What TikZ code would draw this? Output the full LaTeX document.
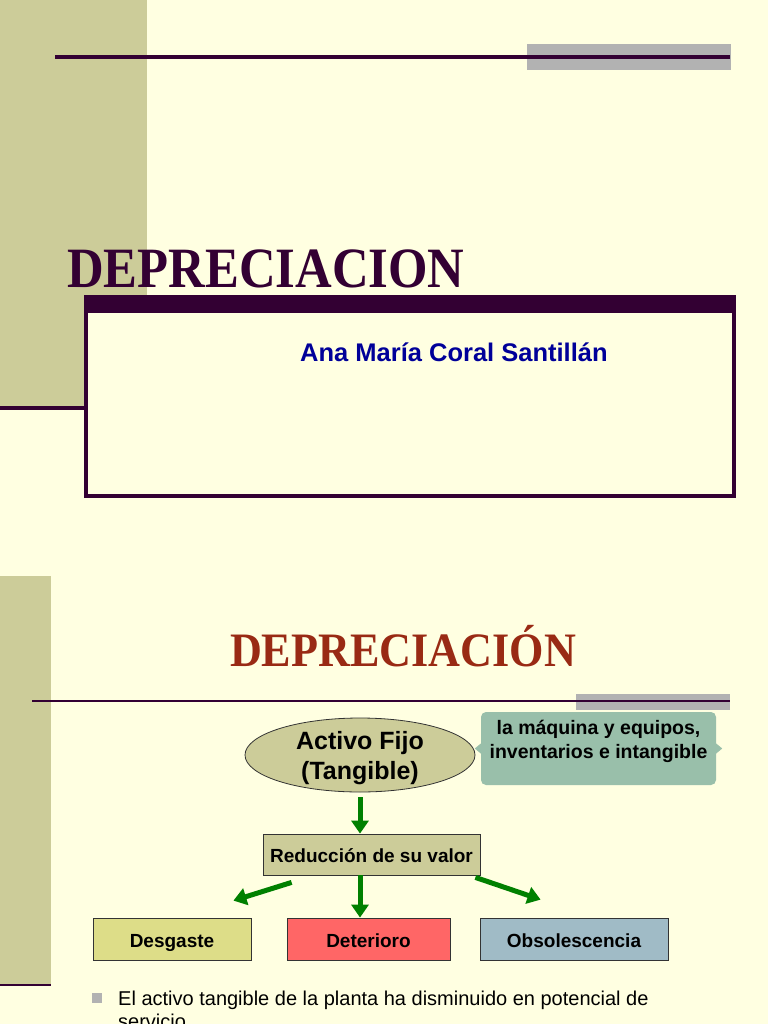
\documentclass[tikz,border=0pt]{standalone}
\usepackage{fontspec}
\setmainfont{Liberation Sans}
\newfontfamily\titleserif{Liberation Serif}
\usetikzlibrary{arrows.meta,positioning,shapes.geometric}
\definecolor{PAPER}{HTML}{FFFFE1}
\definecolor{OLIVE}{HTML}{CCCC99}
\definecolor{PLUM}{HTML}{330033}
\definecolor{BAR}{HTML}{B2B2B2}
\definecolor{NAME}{HTML}{000099}
\definecolor{RUST}{HTML}{992A14}
\definecolor{SAGE}{HTML}{99BFAA}
\definecolor{LEAF}{HTML}{008000}
\definecolor{STRAW}{HTML}{DDDD88}
\definecolor{CORAL}{HTML}{FF6666}
\definecolor{SLATE}{HTML}{A0BBC6}
\definecolor{EDGE}{HTML}{333333}

\begin{document}
\begin{tikzpicture}[x=1pt, y=-1pt,
  bigtitle/.style={font=\titleserif\bfseries\fontsize{#1}{#1}\selectfont, inner sep=0pt},
  oval/.style={ellipse, draw=EDGE, line width=0.8pt, fill=OLIVE, minimum width=230pt, minimum height=74pt, inner sep=0pt},
  sagebox/.style={rounded corners=5pt, fill=SAGE, minimum width=235pt, minimum height=73pt, inner sep=0pt},
  kind/.style={draw=EDGE, line width=0.8pt, minimum height=42pt, inner sep=0pt, text height=18pt, text depth=2pt, font=\bfseries\fontsize{19}{22}\selectfont},
  leafarrow/.style={LEAF, line width=5pt, -{Triangle[length=13pt, width=17pt]}},
]
\useasboundingbox (0,0) rectangle (768,1024);
\clip (0,0) rectangle (768,1024);
\fill[PAPER] (0,0) rectangle (768,1024);

% ===== TOP: cover slide =====
\fill[OLIVE] (0,0) rectangle (147,408);
\draw[PLUM, line width=4pt] (0,408) -- (84,408);
\fill[BAR] (527,44) rectangle (731,70);
\draw[PLUM, line width=4.5pt] (55,57) -- (730,57);
\node[bigtitle=57, text=PLUM, anchor=base west] (cover) at (67,287) {\scalebox{0.89}[1]{DEPRECIACION}};
\draw[PLUM, line width=4pt, fill=PAPER] (86,297) rectangle (734,496);
\fill[PLUM] (84,295) rectangle (736,313);
\node[font=\bfseries\fontsize{25.5}{30}\selectfont, text=NAME, anchor=base west, inner sep=0pt] (author) at (300,361) {Ana María Coral Santillán};

% ===== BOTTOM: concept slide =====
\fill[OLIVE] (0,576) rectangle (51,985);
\draw[PLUM, line width=2.5pt] (0,985) -- (51,985);
\node[bigtitle=48, text=RUST, anchor=base] (topic) at (403,666) {\scalebox{0.92}[1]{DEPRECIACIÓN}};
\fill[BAR] (576,694) rectangle (730,710);
\draw[PLUM, line width=2.5pt] (32,701) -- (730,701);

\node[oval] (activo) at (360,755) {};
\node[align=center, inner sep=0pt, font=\bfseries\fontsize{25}{30}\selectfont] (activotexto) at ([yshift=-3.5pt]activo.center) {Activo Fijo\\(Tangible)};
\node[sagebox] (ejemplos) at (598.5,748.5) {};
\fill[SAGE] (ejemplos.west) ++(0,-5) -- ++(-6,5) -- ++(6,5) -- cycle;
\fill[SAGE] (ejemplos.east) ++(0,-5) -- ++(6,5) -- ++(-6,5) -- cycle;
\node[anchor=north, inner sep=0pt, align=center, font=\bfseries\fontsize{19.5}{24}\selectfont] (ejtexto) at ([yshift=-8pt]ejemplos.north) {la máquina y equipos,\\inventarios e intangible};

\node[kind, fill=OLIVE, minimum width=217pt, minimum height=41pt] (reduccion) at (371.5,854.5) {Reducción de su valor};
\node[kind, fill=STRAW, minimum width=158pt] (desgaste) at (172,939) {Desgaste};
\node[kind, fill=CORAL, minimum width=163pt] (deterioro) at (368.5,939) {Deterioro};
\node[kind, fill=SLATE, minimum width=188pt] (obsolescencia) at (574,939) {Obsolescencia};

\draw[leafarrow, shorten <=5pt] (activo.south) -- (activo.south |- reduccion.north);
\draw[leafarrow] (reduccion.south -| activo.south) -- (deterioro.north -| activo.south);
\draw[leafarrow] ([shift={(29,7)}]reduccion.south west) -- ([shift={(-18,-17)}]desgaste.north east);
\draw[leafarrow] ([shift={(-5,2)}]reduccion.south east) -- ([shift={(61,-18)}]obsolescencia.north west);

\node[fill=BAR, minimum size=10pt, inner sep=0pt] (punto) at (97,998) {};
\node[anchor=north west, inner sep=0pt, align=left, font=\fontsize{20}{23}\selectfont] (nota) at (118,991) {El activo tangible de la planta ha disminuido en potencial de\\servicio};
\end{tikzpicture}
\end{document}
